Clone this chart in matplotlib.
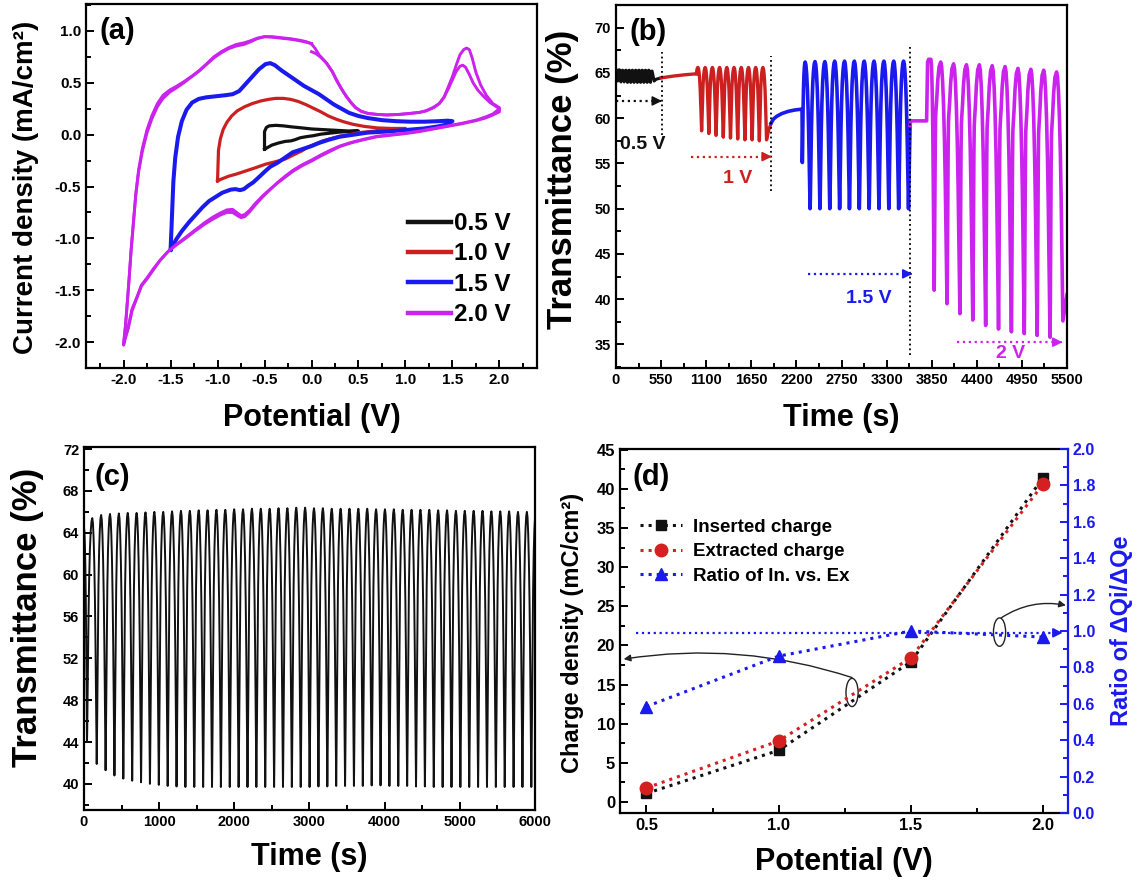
import numpy as np
import matplotlib
matplotlib.use('Agg')
import matplotlib.pyplot as plt
from matplotlib.patches import Ellipse
from matplotlib.ticker import MultipleLocator, FormatStrFormatter

plt.rcParams.update({
    'font.family': ['Liberation Sans', 'DejaVu Sans'],
    'font.weight': 'bold',
    'axes.labelweight': 'bold',
    'axes.unicode_minus': False,
    'axes.linewidth': 1.6,
})

# ====================== DATA ======================
# (a) cyclic voltammograms: (potential V, current density mA/cm2)
cv_05 = [(-0.50, -0.14), (-0.50, -0.05), (-0.50, 0.03), (-0.48, 0.07), (-0.45, 0.085), (-0.38, 0.09),
         (-0.30, 0.085), (-0.21, 0.075), (-0.10, 0.065), (0.00, 0.055), (0.10, 0.05), (0.20, 0.045),
         (0.30, 0.04), (0.40, 0.035), (0.50, 0.035),
         (0.40, 0.03), (0.30, 0.025), (0.20, 0.015), (0.10, 0.005), (0.02, -0.01), (-0.06, -0.02),
         (-0.12, -0.03), (-0.18, -0.05), (-0.22, -0.06), (-0.28, -0.065), (-0.35, -0.08), (-0.42, -0.10),
         (-0.50, -0.14)]

cv_10 = [(-1.00, -0.445), (-0.995, -0.30), (-0.99, -0.15), (-0.97, -0.04), (-0.94, 0.05), (-0.90, 0.12),
         (-0.85, 0.18), (-0.79, 0.23), (-0.71, 0.27), (-0.63, 0.30), (-0.54, 0.325), (-0.46, 0.34),
         (-0.38, 0.35), (-0.30, 0.35), (-0.22, 0.34), (-0.14, 0.32), (-0.06, 0.29), (0.02, 0.255),
         (0.10, 0.22), (0.18, 0.18), (0.26, 0.15), (0.34, 0.125), (0.44, 0.10), (0.56, 0.08),
         (0.70, 0.065), (0.85, 0.06), (1.00, 0.06),
         (0.90, 0.05), (0.76, 0.04), (0.62, 0.03), (0.51, 0.02), (0.40, 0.0), (0.30, -0.015),
         (0.20, -0.04), (0.12, -0.06), (0.04, -0.09), (-0.04, -0.12), (-0.10, -0.155), (-0.18, -0.19),
         (-0.28, -0.235), (-0.38, -0.26), (-0.49, -0.285), (-0.60, -0.32), (-0.70, -0.35),
         (-0.80, -0.38), (-0.88, -0.40), (-0.95, -0.425), (-1.00, -0.445)]

cv_15 = [(-1.50, -1.11), (-1.49, -0.90), (-1.48, -0.67), (-1.47, -0.45), (-1.45, -0.22), (-1.42, -0.02),
         (-1.38, 0.13), (-1.33, 0.24), (-1.27, 0.31), (-1.20, 0.345), (-1.12, 0.36), (-1.02, 0.37),
         (-0.92, 0.38), (-0.84, 0.39), (-0.77, 0.42), (-0.70, 0.49), (-0.63, 0.56), (-0.56, 0.63),
         (-0.49, 0.68), (-0.44, 0.69), (-0.39, 0.67), (-0.32, 0.62), (-0.24, 0.57), (-0.16, 0.52),
         (-0.08, 0.47), (0.00, 0.43), (0.08, 0.39), (0.16, 0.34), (0.24, 0.29), (0.32, 0.25),
         (0.40, 0.21), (0.50, 0.18), (0.60, 0.16), (0.75, 0.14), (0.90, 0.13), (1.05, 0.125),
         (1.20, 0.125), (1.35, 0.13), (1.45, 0.135), (1.50, 0.13),
         (1.45, 0.10), (1.35, 0.08), (1.20, 0.06), (1.00, 0.045), (0.80, 0.03), (0.60, 0.02),
         (0.45, 0.0), (0.30, -0.02), (0.18, -0.05), (0.08, -0.08), (0.00, -0.11), (-0.10, -0.14),
         (-0.20, -0.17), (-0.28, -0.22), (-0.36, -0.27), (-0.44, -0.31), (-0.49, -0.35), (-0.56, -0.41),
         (-0.62, -0.46), (-0.67, -0.49), (-0.72, -0.525), (-0.76, -0.535), (-0.81, -0.525),
         (-0.86, -0.53), (-0.95, -0.56), (-1.02, -0.60), (-1.09, -0.64), (-1.16, -0.70), (-1.23, -0.77),
         (-1.30, -0.84), (-1.38, -0.93), (-1.44, -1.01), (-1.50, -1.11)]

cv_20_cycle1 = [(0.00, 0.80), (0.05, 0.78), (0.10, 0.745), (0.16, 0.69), (0.22, 0.61), (0.27, 0.52),
                (0.32, 0.44), (0.37, 0.37), (0.42, 0.31), (0.47, 0.26), (0.53, 0.225), (0.60, 0.205),
                (0.70, 0.195), (0.80, 0.19), (0.93, 0.195), (1.05, 0.205), (1.15, 0.215), (1.22, 0.23),
                (1.30, 0.265), (1.36, 0.30), (1.41, 0.36), (1.46, 0.47), (1.50, 0.56), (1.54, 0.67),
                (1.58, 0.77), (1.62, 0.82), (1.65, 0.835), (1.68, 0.82), (1.71, 0.74), (1.75, 0.60),
                (1.80, 0.48), (1.86, 0.38), (1.93, 0.30), (2.00, 0.26),
                (2.00, 0.22), (1.93, 0.19), (1.85, 0.16), (1.75, 0.135), (1.60, 0.105), (1.45, 0.08),
                (1.30, 0.055), (1.15, 0.03), (1.00, 0.01), (0.85, -0.005), (0.70, -0.02), (0.55, -0.05),
                (0.42, -0.08), (0.30, -0.115), (0.20, -0.16), (0.10, -0.205), (0.00, -0.255),
                (-0.10, -0.30), (-0.20, -0.355), (-0.28, -0.41), (-0.36, -0.465), (-0.44, -0.525),
                (-0.52, -0.59), (-0.60, -0.665), (-0.66, -0.73), (-0.71, -0.77), (-0.75, -0.78),
                (-0.79, -0.755), (-0.84, -0.72), (-0.90, -0.725), (-0.97, -0.755), (-1.05, -0.795),
                (-1.14, -0.85), (-1.24, -0.92), (-1.34, -0.99), (-1.44, -1.06), (-1.53, -1.13),
                (-1.61, -1.21), (-1.68, -1.29), (-1.75, -1.38), (-1.81, -1.45), (-1.86, -1.57),
                (-1.91, -1.68), (-1.95, -1.85), (-2.00, -2.03),
                (-1.98, -1.85), (-1.96, -1.62), (-1.94, -1.38), (-1.92, -1.12), (-1.895, -0.85),
                (-1.87, -0.58), (-1.84, -0.36), (-1.80, -0.16), (-1.75, 0.02), (-1.70, 0.15),
                (-1.64, 0.27), (-1.58, 0.35), (-1.51, 0.41), (-1.44, 0.45), (-1.36, 0.50), (-1.28, 0.555),
                (-1.20, 0.61), (-1.12, 0.675), (-1.04, 0.74), (-0.96, 0.79), (-0.88, 0.83), (-0.80, 0.855),
                (-0.72, 0.87), (-0.65, 0.895), (-0.58, 0.925), (-0.50, 0.945), (-0.42, 0.945),
                (-0.32, 0.935), (-0.22, 0.925), (-0.12, 0.91), (-0.05, 0.895), (0.00, 0.875)]

cv_20_cycle2 = [(0.00, 0.875), (0.04, 0.83), (0.08, 0.77), (0.12, 0.73), (0.16, 0.69), (0.22, 0.61),
                (0.27, 0.52), (0.32, 0.44), (0.37, 0.37), (0.42, 0.31), (0.47, 0.26), (0.53, 0.225),
                (0.60, 0.205), (0.70, 0.195), (0.80, 0.19), (0.93, 0.195), (1.05, 0.205), (1.15, 0.215),
                (1.22, 0.23), (1.30, 0.26), (1.36, 0.30), (1.41, 0.36), (1.46, 0.45), (1.50, 0.53),
                (1.54, 0.61), (1.58, 0.66), (1.61, 0.67), (1.64, 0.65), (1.68, 0.58), (1.72, 0.50),
                (1.77, 0.43), (1.83, 0.37), (1.90, 0.31), (2.00, 0.25),
                (1.93, 0.20), (1.85, 0.17), (1.75, 0.14), (1.60, 0.11), (1.45, 0.085), (1.30, 0.06),
                (1.15, 0.035), (1.00, 0.015), (0.85, 0.0), (0.70, -0.015), (0.55, -0.045), (0.42, -0.075),
                (0.30, -0.11), (0.20, -0.15), (0.10, -0.195), (0.00, -0.245), (-0.10, -0.29),
                (-0.20, -0.345), (-0.28, -0.40), (-0.36, -0.46), (-0.44, -0.53), (-0.52, -0.60),
                (-0.60, -0.68), (-0.66, -0.745), (-0.71, -0.79), (-0.75, -0.80), (-0.79, -0.78),
                (-0.84, -0.75), (-0.90, -0.75), (-0.97, -0.775), (-1.05, -0.815), (-1.14, -0.865),
                (-1.24, -0.93), (-1.34, -1.0), (-1.44, -1.065), (-1.53, -1.13), (-1.61, -1.21),
                (-1.68, -1.30), (-1.75, -1.39), (-1.81, -1.46), (-1.86, -1.58), (-1.91, -1.70),
                (-1.95, -1.87), (-2.00, -2.01),
                (-1.98, -1.84), (-1.96, -1.61), (-1.94, -1.37), (-1.92, -1.11), (-1.895, -0.84),
                (-1.87, -0.57), (-1.84, -0.34), (-1.80, -0.13), (-1.75, 0.05), (-1.70, 0.18),
                (-1.64, 0.30), (-1.58, 0.38), (-1.51, 0.43), (-1.44, 0.465), (-1.36, 0.51), (-1.28, 0.56),
                (-1.20, 0.615), (-1.12, 0.68), (-1.04, 0.75), (-0.96, 0.80), (-0.88, 0.84), (-0.80, 0.87),
                (-0.72, 0.885), (-0.65, 0.905), (-0.58, 0.93), (-0.50, 0.945), (-0.42, 0.94),
                (-0.32, 0.93), (-0.22, 0.92), (-0.12, 0.905), (-0.05, 0.89), (0.00, 0.88)]

cv_labels = ['0.5 V', '1.0 V', '1.5 V', '2.0 V']

# (b) transmittance during stepwise CV (peaks / troughs per cycle, %)
b_black_peaks = [65.4, 65.35, 65.3, 65.3, 65.3, 65.3, 65.3, 65.3, 65.3, 65.3, 65.3, 65.2]
b_black_troughs = [64.1, 64.0, 64.0, 63.95, 63.95, 63.95, 63.95, 63.95, 63.95, 63.95, 63.95]
b_black_tail_t = [465, 490, 550]
b_black_tail_v = [64.1, 64.3, 64.45]
b_red_base_t = [550, 700, 850, 980]
b_red_base_v = [64.45, 64.65, 64.8, 64.9]
b_red_peaks = [65.6, 65.6, 65.6, 65.6, 65.6, 65.6, 65.6, 65.6, 65.6, 65.6]
b_red_troughs = [58.6, 58.3, 58.1, 57.9, 57.8, 57.7, 57.6, 57.6, 57.5, 57.6]
b_red_tail_t = [1862, 1891]
b_red_tail_v = [58.7, 59.4]
b_blue_base_t = [1891, 1920, 1960, 2020, 2100, 2180, 2268, 2272]
b_blue_base_v = [59.45, 59.9, 60.2, 60.5, 60.75, 60.9, 61.0, 55.1]
b_blue_peaks = [66.2, 66.25, 66.25, 66.3, 66.3, 66.3, 66.3, 66.3, 66.3, 66.3, 66.3]
b_blue_troughs = [50.0, 50.0, 50.0, 50.0, 50.0, 50.0, 50.0, 50.0, 50.0, 50.0, 50.0]
b_blue_tail_t = [3587]
b_blue_tail_v = [59.7]
b_mag_lead_t = [3587, 3592, 3788, 3800, 3812, 3840]
b_mag_lead_v = [59.2, 59.7, 59.7, 66.2, 66.5, 66.5]
b_mag_peaks = [66.2, 66.0, 65.9, 65.9, 65.8, 65.7, 65.5, 65.4, 65.3, 65.1]
b_mag_troughs = [41.0, 39.5, 38.4, 37.7, 37.1, 36.7, 36.4, 36.2, 36.0, 35.8, 37.6]
b_mag_tail_t = [5500]
b_mag_tail_v = [40.5]

# (c) long-term cycling transmittance (%)
c_lead_t = [0, 40]
c_lead_v = [64.5, 44.0]
c_peaks = [65.4, 65.7, 65.8, 65.85, 65.9, 65.9, 65.95, 66.0, 66.0, 66.05,
           66.1, 66.1, 66.15, 66.15, 66.2, 66.2, 66.25, 66.25, 66.3, 66.3,
           66.3, 66.35, 66.35, 66.4, 66.4, 66.35, 66.35, 66.3, 66.3, 66.3,
           66.3, 66.3, 66.25, 66.25, 66.25, 66.2, 66.2, 66.2, 66.2, 66.15,
           66.15, 66.1, 66.1, 66.1, 66.1, 66.05, 66.05, 66.05, 66.0, 66.0]
c_troughs = [41.9, 41.3, 40.8, 40.5, 40.3, 40.15, 40.0, 39.9, 39.8, 39.75,
             39.7, 39.7, 39.7, 39.7, 39.7, 39.7, 39.7, 39.7, 39.7, 39.7,
             39.7, 39.7, 39.7, 39.7, 39.7, 39.75, 39.75, 39.8, 39.8, 39.8,
             39.8, 39.85, 39.85, 39.8, 39.8, 39.8, 39.75, 39.75, 39.7, 39.7,
             39.7, 39.7, 39.7, 39.7, 39.7, 39.7, 39.7, 39.7, 39.7, 39.7]
c_tail_t = [6010]
c_tail_v = [65.9]

# (d) charge density vs potential
d_potential = [0.5, 1.0, 1.5, 2.0]
d_inserted = [1.1, 6.6, 17.9, 41.4]
d_extracted = [1.8, 7.8, 18.4, 40.6]
d_ratio = [0.585, 0.862, 1.0, 0.967]

# ====================== helpers ======================
DOWN = ([0, .15, .3, .45, .6, .72, .82, .9, .96, 1.0],
        [0, .02, .08, .18, .33, .5, .68, .83, .95, 1.0])
UP = ([0, .04, .1, .18, .28, .4, .55, .7, .85, 1.0],
      [0, .05, .17, .35, .55, .72, .86, .94, .985, 1.0])
UP_MAG = ([0, .04, .1, .17, .22, .28, .4, .55, .75, 1.0],
          [0, .1, .35, .65, .76, .79, .84, .92, .98, 1.0])


def alternate(t0, half, peaks, troughs):
    t, v = [], []
    for k in range(len(troughs)):
        if k < len(peaks):
            t.append(t0 + 2 * k * half); v.append(peaks[k])
        t.append(t0 + (2 * k + 1) * half); v.append(troughs[k])
    if len(peaks) > len(troughs):
        t.append(t0 + 2 * len(troughs) * half); v.append(peaks[-1])
    return t, v


def build_wave(t_ext, v_ext, down=DOWN, up=UP):
    ts, vs = [t_ext[0]], [v_ext[0]]
    for i in range(len(t_ext) - 1):
        ta, tb, va, vb = t_ext[i], t_ext[i + 1], v_ext[i], v_ext[i + 1]
        ph, fr = down if vb < va else up
        for p, f in zip(ph[1:], fr[1:]):
            ts.append(ta + p * (tb - ta)); vs.append(va + f * (vb - va))
    return ts, vs


BLACK, RED, BLUE, MAG = '#111111', '#cc2020', '#1a1aee', '#cc22ee'

fig = plt.figure(figsize=(11.4, 8.84), dpi=100)
W, H = 1140.0, 884.0


def add_ax(l, t, r, b):
    return fig.add_axes([l / W, 1 - b / H, (r - l) / W, (b - t) / H])


def style(ax, size):
    ax.tick_params(which='both', direction='in', top=False, right=False, width=1.4, labelsize=size)
    ax.tick_params(which='major', length=6)
    ax.tick_params(which='minor', length=3.5)


# ---------------- (a) ----------------
axa = add_ax(86, 4, 537, 368)
for data, col, lab in zip([cv_05, cv_10, cv_15], [BLACK, RED, BLUE], cv_labels[:3]):
    arr = np.array(data)
    axa.plot(arr[:, 0], arr[:, 1], color=col, lw=2.3 if col != BLUE else 2.9, label=lab)
arr = np.array(cv_20_cycle1)
axa.plot(arr[:, 0], arr[:, 1], color=MAG, lw=2.1, label=cv_labels[3])
arr = np.array(cv_20_cycle2)
axa.plot(arr[:, 0], arr[:, 1], color=MAG, lw=2.1)
axa.set_xlim(-2.4, 2.4)
axa.set_ylim(-2.25, 1.26)
axa.xaxis.set_major_locator(MultipleLocator(0.5))
axa.xaxis.set_minor_locator(MultipleLocator(0.25))
axa.yaxis.set_major_locator(MultipleLocator(0.5))
axa.yaxis.set_minor_locator(MultipleLocator(0.25))
axa.xaxis.set_major_formatter(FormatStrFormatter('%.1f'))
axa.yaxis.set_major_formatter(FormatStrFormatter('%.1f'))
axa.set_xticks([-2, -1.5, -1, -0.5, 0, 0.5, 1, 1.5, 2])
style(axa, 11)
axa.set_xlabel('Potential (V)', fontsize=22)
axa.set_ylabel('Current density (mA/cm²)', fontsize=20)
axa.xaxis.set_label_coords(0.5, -0.137)
axa.yaxis.set_label_coords(-0.133, 0.497)
axa.xaxis.label.set_va('center'); axa.yaxis.label.set_va('center')
leg = axa.legend(loc='upper left', bbox_to_anchor=(0.713, 0.428), frameon=False, fontsize=17.5,
                 handlelength=1.8, handletextpad=0.12, labelspacing=0.3, borderpad=0, borderaxespad=0)
for h in leg.get_lines():
    h.set_linewidth(3.2)
axa.text(0.03, 0.925, '(a)', transform=axa.transAxes, fontsize=21, va='center', ha='left')

# ---------------- (b) ----------------
axb = add_ax(616, 5, 1067, 368)
t, v = alternate(0, 20, b_black_peaks, b_black_troughs)
t, v = build_wave(t, v)
axb.plot(t + b_black_tail_t, v + b_black_tail_v, color=BLACK, lw=2.2)
axb.plot(b_red_base_t, b_red_base_v, color=RED, lw=2.4)
t, v = alternate(1000, 44, b_red_peaks, b_red_troughs)
t, v = build_wave([b_red_base_t[-1]] + t, [b_red_base_v[-1]] + v)
axb.plot(t + b_red_tail_t, v + b_red_tail_v, color=RED, lw=2.4)
t, v = alternate(2307, 60, b_blue_peaks, b_blue_troughs)
t, v = build_wave(b_blue_base_t[-2:] + t, b_blue_base_v[-2:] + v)
axb.plot(b_blue_base_t[:-2] + t + b_blue_tail_t, b_blue_base_v[:-2] + v + b_blue_tail_v, color=BLUE, lw=2.6)
mag_t = [b_mag_lead_t[-1]]
mag_v = [b_mag_lead_v[-1]]
for k in range(len(b_mag_troughs)):
    mag_t.append(3880 + 157 * k); mag_v.append(b_mag_troughs[k])
    if k < len(b_mag_peaks):
        mag_t.append(3880 + 157 * k + 80); mag_v.append(b_mag_peaks[k])
t, v = build_wave(mag_t, mag_v, up=UP_MAG)
axb.plot(b_mag_lead_t[:-1] + t + b_mag_tail_t, b_mag_lead_v[:-1] + v + b_mag_tail_v, color=MAG, lw=2.6)
axb.set_xlim(0, 5500)
axb.set_ylim(32.4, 72.5)
axb.xaxis.set_major_locator(MultipleLocator(550))
axb.xaxis.set_minor_locator(MultipleLocator(275))
axb.yaxis.set_major_locator(MultipleLocator(5))
axb.yaxis.set_minor_locator(MultipleLocator(2.5))
axb.set_yticks(np.arange(35, 71, 5))
style(axb, 10.5)
axb.set_xlabel('Time (s)', fontsize=22)
axb.set_ylabel('Transmittance (%)', fontsize=25)
axb.xaxis.set_label_coords(0.5, -0.138)
axb.yaxis.set_label_coords(-0.118, 0.52)
axb.xaxis.label.set_va('center'); axb.yaxis.label.set_va('center')
axb.text(0.03, 0.925, '(b)', transform=axb.transAxes, fontsize=21, va='center', ha='left')
# dotted separators
for tx, y0, y1 in [(557, 58.1, 67.3), (1891, 52.0, 66.9), (3587, 33.8, 68.0)]:
    axb.plot([tx, tx], [y0, y1], ls=':', color='k', lw=1.3)
# dotted arrows and labels
for x0, x1, y, col, txt, tx, ty in [(0, 540, 61.9, BLACK, '0.5 V', 330, 57.1),
                                     (915, 1880, 55.75, RED, '1 V', 1485, 53.3),
                                     (2338, 3595, 42.8, BLUE, '1.5 V', 3078, 40.1),
                                     (4157, 5425, 35.25, MAG, '2 V', 4807, 34.0)]:
    axb.plot([x0, x1], [y, y], ls=':', color=col, lw=1.6)
    axb.annotate('', xy=(x1 + 20, y), xytext=(x1 - 40, y),
                 arrowprops=dict(arrowstyle='-|>', color=col, lw=1.2, mutation_scale=14))
    axb.text(tx, ty, txt, color=col, fontsize=14, ha='center', va='center')

# ---------------- (c) ----------------
axc = add_ax(84, 447, 535, 810)
t, v = alternate(110, 59, c_peaks, c_troughs)
t, v = build_wave(c_lead_t + t + c_tail_t, c_lead_v + v + c_tail_v)
axc.plot(t, v, color=BLACK, lw=1.4)
axc.set_xlim(0, 6000)
axc.set_ylim(37.5, 72.2)
axc.xaxis.set_major_locator(MultipleLocator(1000))
axc.xaxis.set_minor_locator(MultipleLocator(500))
axc.set_yticks(np.arange(40, 73, 4))
axc.yaxis.set_minor_locator(MultipleLocator(2))
style(axc, 10.5)
axc.set_xlabel('Time (s)', fontsize=22)
axc.set_ylabel('Transmittance (%)', fontsize=25)
axc.xaxis.set_label_coords(0.5, -0.13)
axc.yaxis.set_label_coords(-0.126, 0.53)
axc.xaxis.label.set_va('center'); axc.yaxis.label.set_va('center')
axc.text(0.024, 0.918, '(c)', transform=axc.transAxes, fontsize=21, va='center', ha='left')

# ---------------- (d) ----------------
axd = add_ax(620, 449, 1068, 813)
ax2 = axd.twinx()
l1, = axd.plot(d_potential, d_inserted, ls=':', color=BLACK, lw=2.2, marker='s', ms=7.5,
               label='Inserted charge')
l2, = axd.plot(d_potential, d_extracted, ls=':', color='#d42020', lw=2.2, marker='o', ms=9,
               label='Extracted charge')
l3, = ax2.plot(d_potential, d_ratio, ls=':', color=BLUE, lw=2.2, marker='^', ms=8,
               label='Ratio of In. vs. Ex')
axd.set_xlim(0.40, 2.095)
axd.set_ylim(-1.4, 45.1)
ax2.set_ylim(0, 2.0)
axd.set_xticks([0.5, 1.0, 1.5, 2.0])
axd.xaxis.set_minor_locator(MultipleLocator(0.25))
axd.xaxis.set_major_formatter(FormatStrFormatter('%.1f'))
axd.yaxis.set_major_locator(MultipleLocator(5))
axd.yaxis.set_minor_locator(MultipleLocator(2.5))
ax2.yaxis.set_major_locator(MultipleLocator(0.2))
ax2.yaxis.set_minor_locator(MultipleLocator(0.1))
ax2.yaxis.set_major_formatter(FormatStrFormatter('%.1f'))
style(axd, 12)
ax2.tick_params(which='both', direction='in', right=True, left=False, width=1.4,
                labelsize=11.5, colors=BLUE)
ax2.tick_params(which='major', length=6)
ax2.tick_params(which='minor', length=3.5)
axd.spines['right'].set_visible(False)
for s in ['left', 'top', 'bottom']:
    ax2.spines[s].set_visible(False)
ax2.spines['right'].set_color(BLUE)
ax2.spines['right'].set_linewidth(1.6)
axd.set_xlabel('Potential (V)', fontsize=22)
axd.set_ylabel('Charge density (mC/cm²)', fontsize=17)
ax2.set_ylabel('Ratio of ΔQi/ΔQe', fontsize=17, color=BLUE)
axd.xaxis.set_label_coords(0.5, -0.134)
axd.yaxis.set_label_coords(-0.107, 0.494)
ax2.yaxis.set_label_coords(1.12, 0.5)
axd.xaxis.label.set_va('center'); axd.yaxis.label.set_va('center'); ax2.yaxis.label.set_va('center')
axd.text(0.027, 0.923, '(d)', transform=axd.transAxes, fontsize=21, va='center', ha='left')
# reference line with arrow
ax2.plot([0.462, 2.06], [0.99, 0.99], ls=':', color=BLUE, lw=1.6)
ax2.annotate('', xy=(2.085, 0.99), xytext=(2.04, 0.99),
             arrowprops=dict(arrowstyle='-|>', color=BLUE, lw=1.2, mutation_scale=14))
# ellipses with curved arrows
axd.add_patch(Ellipse((1.278, 14.0), 0.046, 3.6, fill=False, ec='#222222', lw=1.0))
axd.annotate('', xy=(0.414, 18.26), xytext=(1.278, 15.9),
             arrowprops=dict(arrowstyle='-|>', color='#222222', lw=1.0, mutation_scale=10,
                             connectionstyle='arc3,rad=0.12', shrinkA=0, shrinkB=0))
ax2.add_patch(Ellipse((1.836, 0.994), 0.046, 0.156, fill=False, ec='#222222', lw=1.0))
ax2.annotate('', xy=(2.087, 1.141), xytext=(1.843, 1.073),
             arrowprops=dict(arrowstyle='-|>', color='#222222', lw=1.0, mutation_scale=10,
                             connectionstyle='arc3,rad=-0.2', shrinkA=0, shrinkB=0))
ax2.legend(handles=[l1, l2, l3], loc='upper left', bbox_to_anchor=(0.044, 0.808), frameon=False,
           fontsize=13.5, handlelength=2.24, handletextpad=0.6, labelspacing=0.38,
           borderpad=0, borderaxespad=0)

fig.savefig('out.png', dpi=100)
